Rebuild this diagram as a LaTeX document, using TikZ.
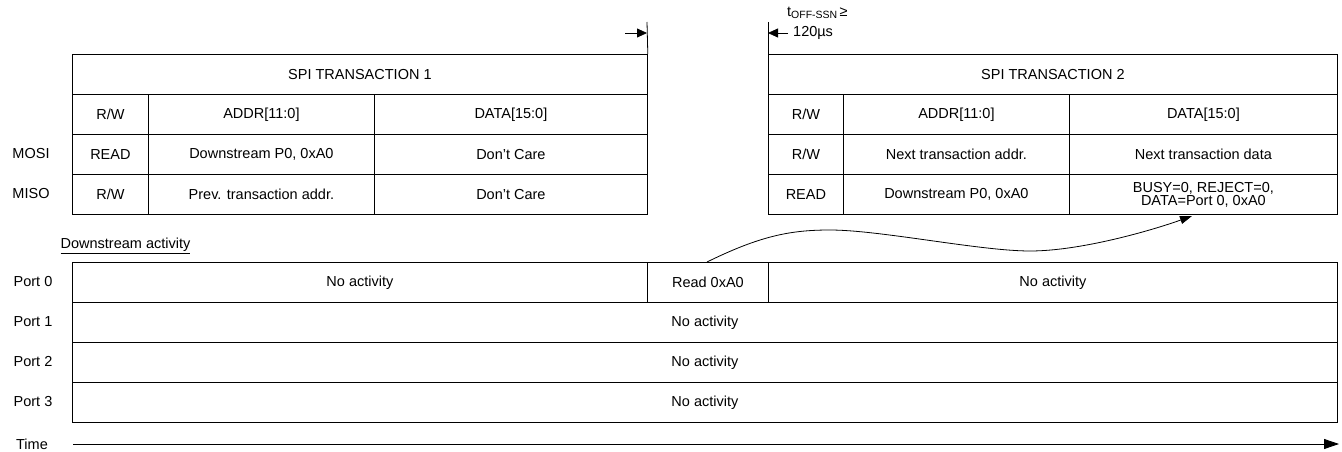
\documentclass[tikz,border=0pt]{standalone}
\usepackage{fontspec}
\setmainfont{Liberation Sans}
\usetikzlibrary{arrows.meta}
\tikzset{
  txt/.style={font=\fontsize{14.5}{13}\selectfont, inner sep=0pt},
  cell/.style 2 args={draw, line width=0.8pt, rectangle, inner sep=0pt, anchor=north west,
     align=center, minimum width=#1, minimum height=#2, font=\fontsize{14.5}{13}\selectfont},
  conn/.style={line width=0.8pt},
  tip/.style={line width=0.8pt, -{Triangle[length=10pt,width=9pt]}},
  longtip/.style={line width=0.8pt, -{Triangle[length=15pt,width=10pt]}},
  curvetip/.style={line width=0.8pt, -{Triangle[length=12pt,width=8pt]}}
}
\begin{document}
\begin{tikzpicture}[x=1pt,y=-1pt]
\useasboundingbox (0,0) rectangle (1342,452);
% Table 1
\node[cell={575}{40}] (t1h) at (72,54) {SPI TRANSACTION 1};
\node[cell={76}{40}]  (t1a1) at (72,94) {R/W};
\node[cell={226}{40}] (t1b1) at (148,94) {ADDR[11:0]};
\node[cell={273}{40}] (t1c1) at (374,94) {DATA[15:0]};
\node[cell={76}{40}]  (t1a2) at (72,134) {READ};
\node[cell={226}{40}] (t1b2) at (148,134) {Downstream P0, 0xA0};
\node[cell={273}{40}] (t1c2) at (374,134) {Don’t Care};
\node[cell={76}{40}]  (t1a3) at (72,174) {R/W};
\node[cell={226}{40}] (t1b3) at (148,174) {Prev. transaction addr.};
\node[cell={273}{40}] (t1c3) at (374,174) {Don’t Care};
% Table 2
\node[cell={569}{40}] (t2h) at (768,54) {SPI TRANSACTION 2};
\node[cell={75}{40}]  (t2a1) at (768,94) {R/W};
\node[cell={226}{40}] (t2b1) at (843,94) {ADDR[11:0]};
\node[cell={268}{40}] (t2c1) at (1069,94) {DATA[15:0]};
\node[cell={75}{40}]  (t2a2) at (768,134) {R/W};
\node[cell={226}{40}] (t2b2) at (843,134) {Next transaction addr.};
\node[cell={268}{40}] (t2c2) at (1069,134) {Next transaction data};
\node[cell={75}{40}]  (t2a3) at (768,174) {READ};
\node[cell={226}{40}] (t2b3) at (843,174) {Downstream P0, 0xA0};
\node[cell={268}{40}] (t2c3) at (1069,174) {BUSY=0, REJECT=0,\\DATA=Port 0, 0xA0};
% Row labels
\node[txt] (mosi) at (31,154) {MOSI};
\node[txt] (miso) at (31,194) {MISO};
\node[txt] (ds) at (125.5,246) {\underline{Downstream activity}};
% Ports
\node[cell={575}{40}] (p0a) at (72,262) {No activity};
\node[cell={121}{40}] (p0b) at (647,262) {Read 0xA0};
\node[cell={569}{40}] (p0c) at (768,262) {No activity};
\node[cell={1265}{40}] (p1) at (72,302) {No activity};
\node[cell={1265}{40}] (p2) at (72,342) {No activity};
\node[cell={1265}{40}] (p3) at (72,382) {No activity};
\node[txt] (lp0) at (33,282) {Port 0};
\node[txt] (lp1) at (33,322) {Port 1};
\node[txt] (lp2) at (33,362) {Port 2};
\node[txt] (lp3) at (33,402) {Port 3};
\node[txt] (ltime) at (32,444) {Time};
% Time axis
\coordinate (ts) at (73,444);
\coordinate (te) at (1339,444);
\draw[longtip] (ts) -- (te);
% Gap marker
\coordinate (v1t) at (647,22);
\coordinate (v2t) at (768,22);
\draw[conn] (v1t) -- (t1h.north east);
\draw[conn] (v2t) -- (t2h.north west);
\coordinate (a1s) at (625,33);
\coordinate (a1e) at (647,33);
\coordinate (a2s) at (788,33);
\coordinate (a2e) at (768,33);
\draw[tip] (a1s) -- (a1e);
\draw[tip] (a2s) -- (a2e);
\node[txt, anchor=west] (toff) at (787,13) {t{\fontsize{10.5}{10}\selectfont\raisebox{-2.5pt}{OFF-SSN}}\,≥};
\node[txt, anchor=west] (tval) at (793,33) {120µs};
% Read data flow
\coordinate (cs) at (707,262);
\coordinate (ce) at (1192,216);
\draw[curvetip] (cs) .. controls (760,236) and (790,230) .. (830,230)
   .. controls (880,230) and (980,251) .. (1030,251)
   .. controls (1080,251) and (1150,231) .. (ce);
\end{tikzpicture}
\end{document}
